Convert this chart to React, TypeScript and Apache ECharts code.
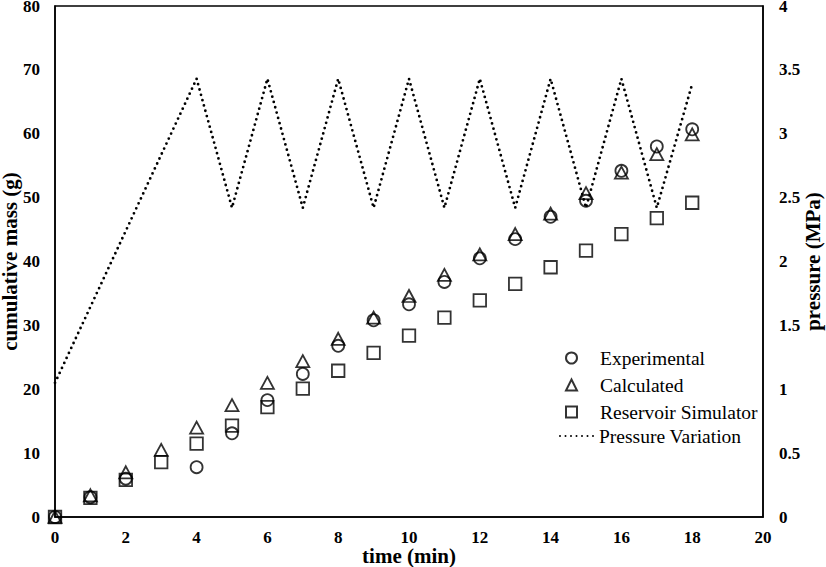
import React, { useEffect, useRef } from "react";
import * as echarts from "echarts";

const timeMin = [0, 1, 2, 3, 4, 5, 6, 7, 8, 9, 10, 11, 12, 13, 14, 15, 16, 17, 18];
const experimental: (number | null)[] = [0, 3.1, 6.0, null, 7.8, 13.1, 18.3, 22.4, 26.8, 30.8, 33.3, 36.8, 40.5, 43.5, 47.0, 49.5, 54.2, 58.0, 60.7];
const calculated = [0, 3.4, 7.0, 10.5, 14.0, 17.5, 21.0, 24.4, 27.9, 31.2, 34.6, 37.9, 41.1, 44.3, 47.5, 50.7, 53.9, 56.8, 59.9];
const reservoir = [0, 3.0, 5.8, 8.6, 11.5, 14.3, 17.2, 20.1, 22.9, 25.7, 28.4, 31.2, 33.9, 36.5, 39.1, 41.7, 44.3, 46.8, 49.2];
const pressureTime = [0, 4, 5, 6, 7, 8, 9, 10, 11, 12, 13, 14, 15, 16, 17, 18];
const pressureMPa = [1.05, 3.43, 2.42, 3.43, 2.42, 3.43, 2.42, 3.43, 2.42, 3.43, 2.42, 3.43, 2.42, 3.43, 2.42, 3.39];

const FONT = "'Liberation Serif', 'Times New Roman', serif";

function pairs(xs: number[], ys: (number | null)[]) {
  return xs.map((x, i) => [x, ys[i]]).filter((p) => p[1] !== null);
}

export default function App() {
  const ref = useRef<HTMLDivElement>(null);
  useEffect(() => {
    if (!ref.current) return;
    const chart = echarts.init(ref.current, null, { renderer: "svg" });
    const markerStyle = { color: "rgba(0,0,0,0)", borderColor: "#000", borderWidth: 1.8 };
    const axisLabel = { color: "#000", fontFamily: FONT, fontWeight: "bold" as const, fontSize: 17 };
    const nameStyle = { color: "#000", fontFamily: FONT, fontWeight: "bold" as const, fontSize: 21 };
    const legendText = { color: "#000", fontFamily: FONT, fontSize: 19.5, lineHeight: 19 };
    chart.setOption({
      animation: false,
      backgroundColor: "#fff",
      grid: {
        left: 55, right: 63, top: 6, bottom: 50,
        show: true, borderColor: "#000", borderWidth: 1.5,
        outerBoundsMode: "none", containLabel: false,
      },
      legend: [
        {
          orient: "vertical",
          left: 565,
          top: 348,
          padding: 0,
          itemWidth: 11,
          itemHeight: 11,
          itemGap: 7,
          textStyle: { ...legendText, padding: [0, 0, 0, 18] },
          data: ["Experimental", "Calculated", "Reservoir Simulator"],
        },
        {
          orient: "vertical",
          left: 559,
          top: 426,
          padding: 0,
          itemWidth: 34,
          itemHeight: 11,
          textStyle: legendText,
          data: [
            { name: "Pressure Variation", itemStyle: { color: "rgba(0,0,0,0)", borderWidth: 0, opacity: 0 } },
          ],
        },
      ],
      xAxis: {
        type: "value",
        min: 0,
        max: 20,
        interval: 2,
        name: "time (min)",
        nameLocation: "middle",
        nameGap: 28,
        nameMoveOverlap: false,
        nameTextStyle: nameStyle,
        axisLine: { show: true, lineStyle: { color: "#000", width: 1.5 } },
        axisTick: { show: false },
        splitLine: { show: false },
        axisLabel: { ...axisLabel, margin: 12 },
      },
      yAxis: [
        {
          type: "value",
          min: 0,
          max: 80,
          interval: 10,
          name: "cumulative mass (g)",
          nameLocation: "middle",
          nameGap: 35,
          nameMoveOverlap: false,
          nameTextStyle: nameStyle,
          axisLine: { show: true, lineStyle: { color: "#000", width: 1.5 } },
          axisTick: { show: false },
          splitLine: { show: false },
          axisLabel: { ...axisLabel, margin: 15 },
        },
        {
          type: "value",
          min: 0,
          max: 4,
          interval: 0.5,
          position: "right",
          name: "pressure (MPa)",
          nameLocation: "middle",
          nameGap: 39,
          nameMoveOverlap: false,
          nameTextStyle: nameStyle,
          axisLine: { show: true, lineStyle: { color: "#000", width: 1.5 } },
          axisTick: { show: false },
          splitLine: { show: false },
          axisLabel: { ...axisLabel, margin: 16 },
        },
      ],
      series: [
        {
          name: "Experimental",
          type: "scatter",
          symbol: "circle",
          symbolSize: 12,
          itemStyle: markerStyle,
          data: pairs(timeMin, experimental),
          z: 3,
        },
        {
          name: "Calculated",
          type: "scatter",
          symbol: "triangle",
          symbolSize: [13, 12],
          itemStyle: markerStyle,
          data: pairs(timeMin, calculated),
          z: 3,
        },
        {
          name: "Reservoir Simulator",
          type: "scatter",
          symbol: "rect",
          symbolSize: 12.5,
          itemStyle: markerStyle,
          data: pairs(timeMin, reservoir),
          z: 3,
        },
        {
          name: "Pressure Variation",
          type: "line",
          yAxisIndex: 1,
          symbol: "none",
          lineStyle: { color: "#000", width: 2.8, type: [0, 5.5], cap: "round" },
          itemStyle: { color: "#000" },
          data: pairs(pressureTime, pressureMPa),
          z: 2,
        },
      ],
    });
    return () => chart.dispose();
  }, []);
  return <div ref={ref} style={{ position: "fixed", left: 0, top: 0, width: 826, height: 567 }} />;
}
